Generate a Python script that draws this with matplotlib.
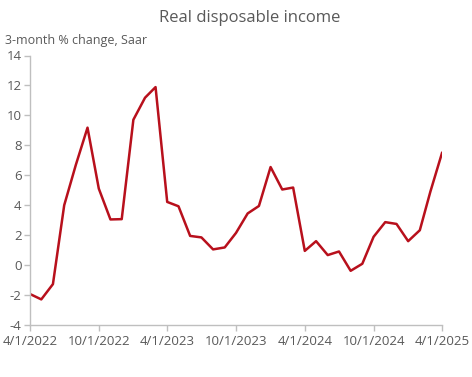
import matplotlib
matplotlib.use("Agg")
import matplotlib.pyplot as plt
import pandas as pd

plt.rcParams['font.family'] = ['Open Sans', 'DejaVu Sans']

dates = pd.date_range("2022-04-01", "2025-04-01", freq="MS")
values = [-1.93, -2.29, -1.27, 4.0, 6.7, 9.18, 5.11, 3.05, 3.07, 9.71, 11.18, 11.89,
          4.22, 3.93, 1.95, 1.85, 1.05, 1.18, 2.15, 3.45, 3.95, 6.55, 5.05, 5.18,
          0.95, 1.6, 0.67, 0.91, -0.38, 0.09, 1.89, 2.87, 2.75, 1.6, 2.33, 4.9, 7.49]
tick_dates = pd.to_datetime(["2022-04-01", "2022-10-01", "2023-04-01", "2023-10-01",
                             "2024-04-01", "2024-10-01", "2025-04-01"])
tick_labels = ["4/1/2022", "10/1/2022", "4/1/2023", "10/1/2023",
               "4/1/2024", "10/1/2024", "4/1/2025"]
y_ticks = list(range(-4, 15, 2))

grey = "#595959"
fig = plt.figure(figsize=(4.72, 3.77), dpi=100)
ax = fig.add_axes([30/472, 1-325/377, 412/472, (325-55.5)/377])
ax.plot(dates, values, color="#B8101C", lw=1.8)
ax.set_xlim(dates[0], dates[-1])
ax.set_ylim(-4, 14)
ax.set_yticks(y_ticks)
ax.set_yticklabels([str(v) for v in y_ticks])
ax.set_xticks(tick_dates)
ax.set_xticklabels(tick_labels)
for s in ["top", "right"]:
    ax.spines[s].set_visible(False)
for s in ["left", "bottom"]:
    ax.spines[s].set_color("#BFBFBF")
    ax.spines[s].set_linewidth(1.0)
ax.tick_params(axis="both", colors="#BFBFBF", labelcolor=grey, labelsize=9.5, length=4, width=1)
ax.tick_params(axis="y", pad=2)
fig.text(0.53, 0.952, "Real disposable income", ha="center", va="center", fontsize=12, color=grey)
fig.text(0.01, 0.893, "3-month % change, Saar", ha="left", va="center", fontsize=9, color=grey)
fig.savefig("out.png", dpi=100)
